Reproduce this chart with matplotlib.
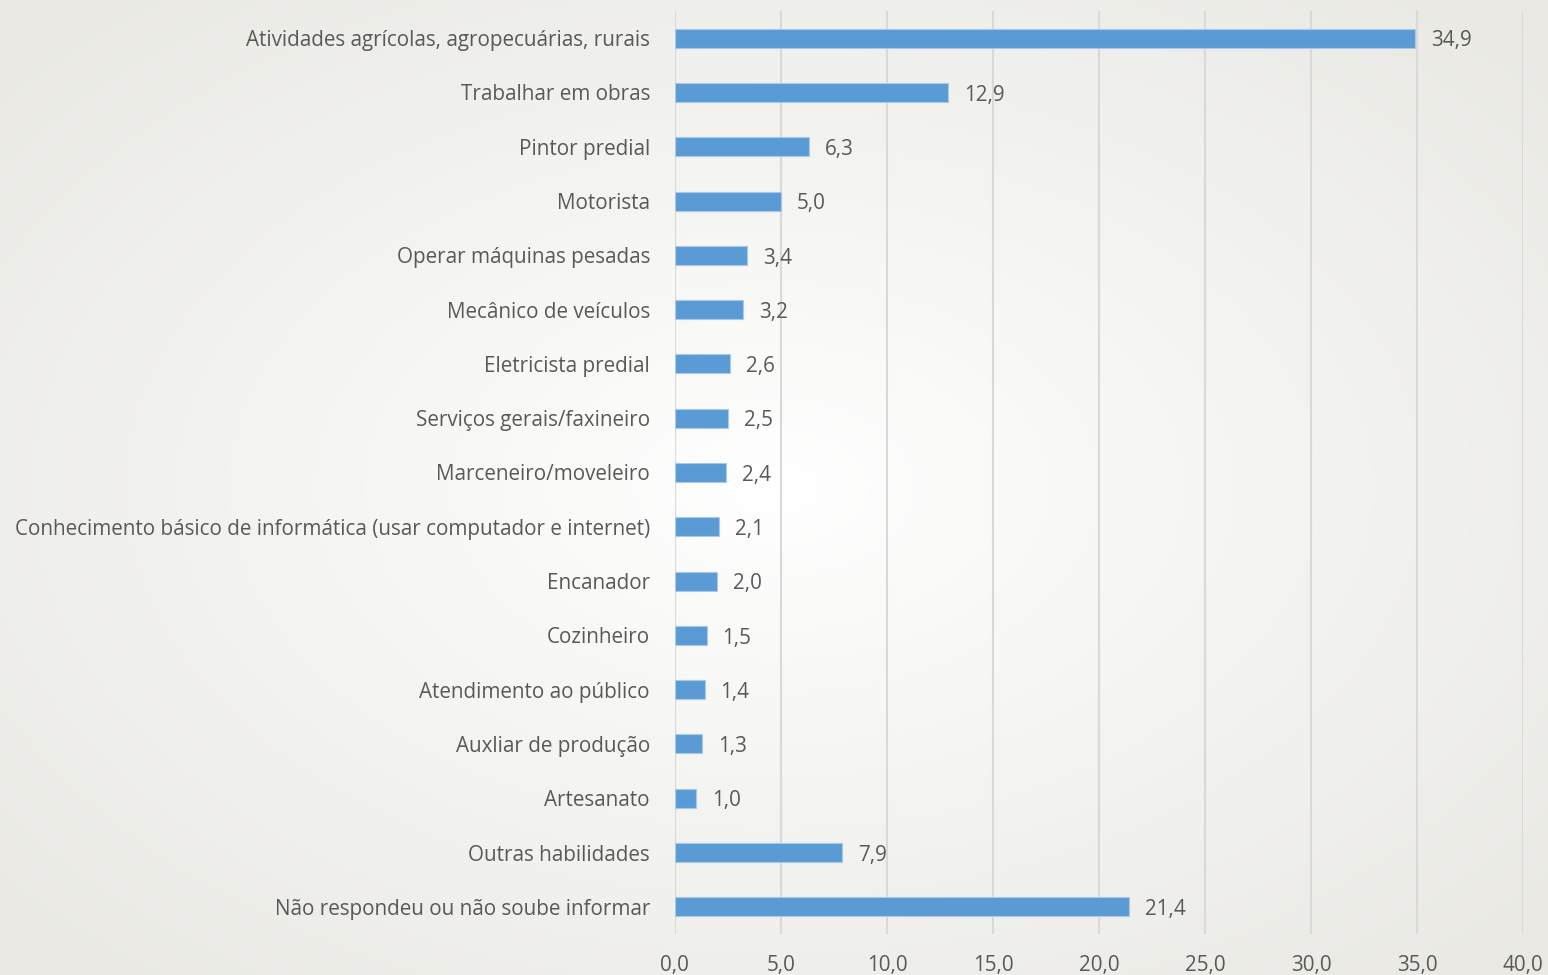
import numpy as np
import matplotlib
matplotlib.use("Agg")
import matplotlib.pyplot as plt
from matplotlib.colors import LinearSegmentedColormap

categories = [
    "Atividades agrícolas, agropecuárias, rurais",
    "Trabalhar em obras",
    "Pintor predial",
    "Motorista",
    "Operar máquinas pesadas",
    "Mecânico de veículos",
    "Eletricista predial",
    "Serviços gerais/faxineiro",
    "Marceneiro/moveleiro",
    "Conhecimento básico de informática (usar computador e internet)",
    "Encanador",
    "Cozinheiro",
    "Atendimento ao público",
    "Auxliar de produção",
    "Artesanato",
    "Outras habilidades",
    "Não respondeu ou não soube informar",
]
values = [34.9, 12.9, 6.3, 5.0, 3.4, 3.2, 2.6, 2.5, 2.4, 2.1, 2.0, 1.5, 1.4, 1.3, 1.0, 7.9, 21.4]
xticks = [0, 5, 10, 15, 20, 25, 30, 35, 40]

FONT = ["Open Sans", "DejaVu Sans"]
TXT = "#595959"
FS = 14.9
plt.rcParams["font.family"] = FONT

fig = plt.figure(figsize=(15.48, 9.75), dpi=100)

# radial gradient background
bg = fig.add_axes([0, 0, 1, 1], zorder=-10)
h, w = 975, 1548
yy, xx = np.mgrid[0:h, 0:w]
r = np.sqrt(((xx - 774) / 774) ** 2 + ((yy - 487) / 487) ** 2) / np.sqrt(2)
cmap = LinearSegmentedColormap.from_list("bg", ["#ffffff", "#f3f3f0", "#e9e8e3"])
bg.imshow(r, cmap=cmap, aspect="auto", vmin=0, vmax=1, extent=[0, 1, 0, 1])
bg.axis("off")

ax = fig.add_axes([0.436, 0.0421, 0.5479, 0.9466])
ax.set_facecolor("none")
y = np.arange(len(categories))
ax.barh(y, values, height=0.35, color="#5b9bd5", edgecolor="#a9c9ea", linewidth=0.8, zorder=3)
for yi, v in zip(y, values):
    ax.text(v + 0.75, yi + 0.05, f"{v:.1f}".replace(".", ","), va="center", ha="left",
            fontsize=FS, color=TXT, zorder=4)

ax.set_ylim(len(categories) - 0.5, -0.5)
ax.set_xlim(0, 40)
ax.set_yticks(y)
ax.set_yticklabels(categories, fontsize=FS, color=TXT)
ax.set_xticks(xticks)
ax.set_xticklabels([f"{t:.1f}".replace(".", ",") for t in xticks], fontsize=FS, color=TXT)
ax.tick_params(axis="y", length=0, pad=18)
ax.tick_params(axis="x", length=0, pad=15)
ax.grid(axis="x", color="#d9d9d9", linewidth=1.5, zorder=0)
ax.set_axisbelow(True)
for s in ax.spines.values():
    s.set_visible(False)

fig.savefig("out.png", dpi=100)
